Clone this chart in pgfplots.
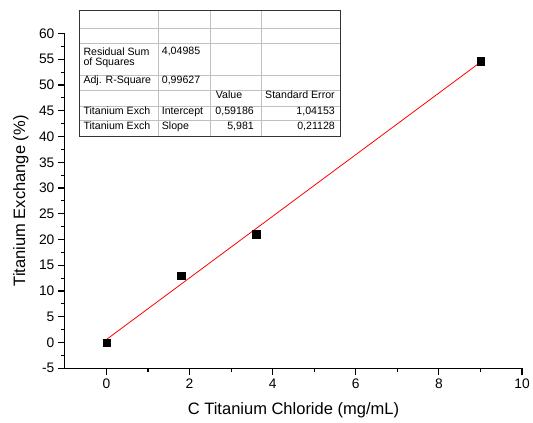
\documentclass[border=0pt]{standalone}
\usepackage{pgfplots}
\pgfplotsset{compat=1.18}
\usepackage{fontspec}
\setmainfont{Liberation Sans}
\begin{document}
\begin{tikzpicture}[x=1pt,y=1pt]
\path[use as bounding box] (0,0) rectangle (533,423);
\begin{axis}[
  at={(64.9pt,54.7pt)}, anchor=south west,
  scale only axis, width=457.1pt, height=334.8pt,
  xmin=-1, xmax=10, ymin=-5, ymax=60,
  axis x line*=bottom, axis y line*=left,
  axis line style={line width=1.1pt, black},
  tick align=outside,
  major tick length=7pt, minor tick length=4pt,
  every tick/.style={line width=1.1pt, black},
  xtick={0,2,4,6,8,10}, minor x tick num=1,
  ytick={-5,0,5,...,60}, minor y tick num=1,
  /pgf/number format/assume math mode=true,
  tick label style={font=\fontsize{13.8}{15}\selectfont},
  xlabel={C Titanium Chloride (mg/mL)},
  ylabel={Titanium Exchange (\%)},
  every axis x label/.style={at={(axis description cs:0.5,-0.1246)}, anchor=center, font=\fontsize{16.5}{18}\selectfont},
  every axis y label/.style={at={(axis description cs:-0.0963,0.5)}, rotate=90, anchor=center, font=\fontsize{16.5}{18}\selectfont},
  clip=false,
]
\addplot[red, line width=0.8pt] coordinates {(0,0.59186) (9,54.42086)};
\addplot[only marks, mark=square*, mark size=3.7pt, mark options={fill=black, draw=black}] coordinates {
  (0,0) (1.8,13) (3.6,21) (9,54.6)
};
\end{axis}
% fit table
\begin{scope}[font=\fontsize{10.6}{12}\selectfont]
\fill[white] (79.3,287) rectangle (340,413);
\foreach \y in {394.7,379.7,348,332.3,317,302.3}
  \draw[gray!50, line width=0.8pt] (79.3,\y) -- (340,\y);
\foreach \x in {158.3,210.7,261}
  \draw[gray!50, line width=0.8pt] (\x,287) -- (\x,413);
\draw[black!80, line width=0.9pt] (79.3,287) rectangle (340,413);
\node[anchor=base west, inner sep=0] at (83.3,367.3) {Residual Sum};
\node[anchor=base west, inner sep=0] at (83.3,357.2) {of Squares};
\node[anchor=base west, inner sep=0] at (161.7,368.7) {4,04985};
\node[anchor=base west, inner sep=0] at (83.3,339.7) {Adj. R-Square};
\node[anchor=base west, inner sep=0] at (161.7,339.7) {0,99627};
\node[anchor=base west, inner sep=0] at (215.7,324) {Value};
\node[anchor=base west, inner sep=0] at (265,324) {Standard Error};
\node[anchor=base west, inner sep=0] at (83.3,308.7) {Titanium Exch};
\node[anchor=base west, inner sep=0] at (161.7,308.7) {Intercept};
\node[anchor=base east, inner sep=0] at (254,308.7) {0,59186};
\node[anchor=base east, inner sep=0] at (335,308.7) {1,04153};
\node[anchor=base west, inner sep=0] at (83.3,293.7) {Titanium Exch};
\node[anchor=base west, inner sep=0] at (161.7,293.7) {Slope};
\node[anchor=base east, inner sep=0] at (254,293.7) {5,981};
\node[anchor=base east, inner sep=0] at (335,293.7) {0,21128};
\end{scope}
\end{tikzpicture}
\end{document}
